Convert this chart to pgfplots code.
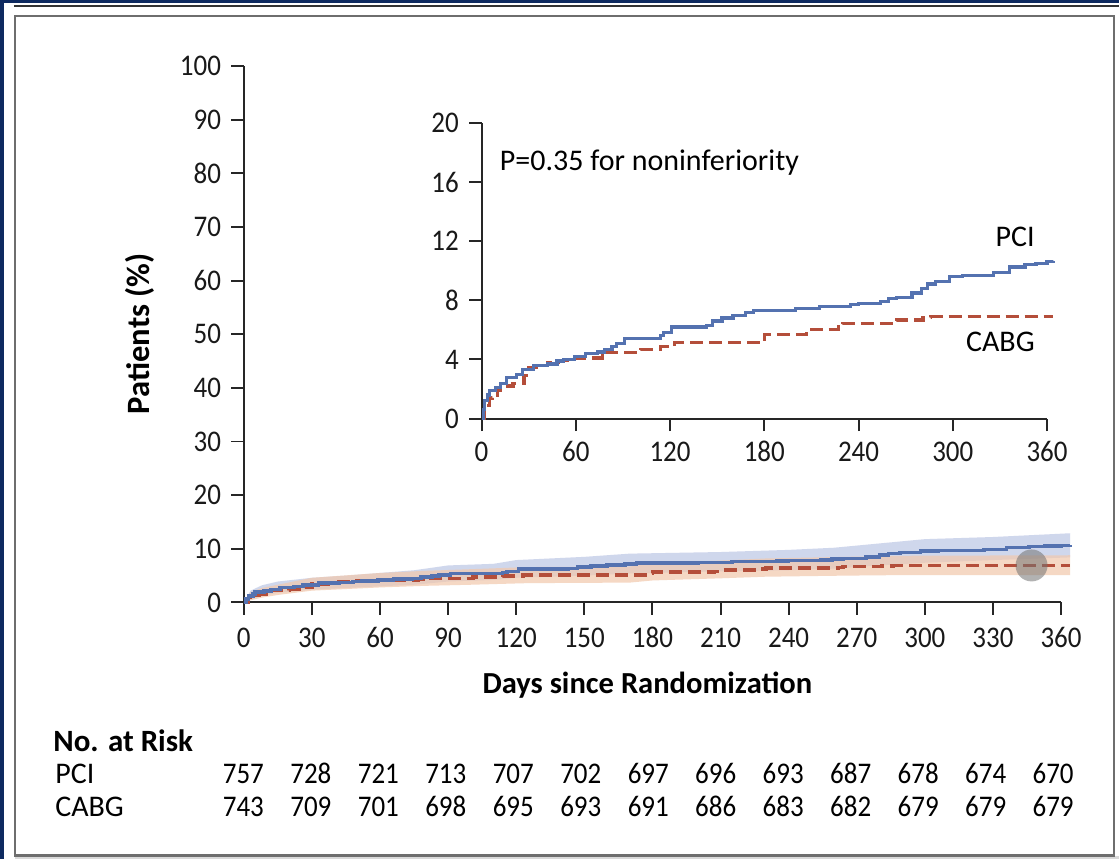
\documentclass[border=0pt]{standalone}
\usepackage{pgfplots}
\pgfplotsset{compat=1.18}
\usepackage{fontspec}
\setmainfont{Carlito}[Numbers=Lining]
\newfontfamily\numfont{Carlito}[FakeStretch=0.9,Numbers=Lining]
\definecolor{navy}{RGB}{14,42,96}
\definecolor{pciblue}{RGB}{84,114,176}
\definecolor{cabgred}{RGB}{180,78,58}
\definecolor{pciband}{RGB}{196,205,232}
\definecolor{cabgband}{RGB}{242,200,172}
\definecolor{framegray}{RGB}{110,110,110}

\pgfplotstableread{
day val
0 0
1 0.6
2 1.2
4 1.6
5 1.9
9 2.1
12 2.4
16 2.8
22 3.0
26 3.3
33 3.6
42 3.7
48 3.9
52 4.0
59 4.2
66 4.4
74 4.5
78 4.7
83 4.9
86 5.1
91 5.4
114 5.6
116 5.8
121 6.2
143 6.3
147 6.6
153 6.8
160 7.0
168 7.2
173 7.3
200 7.45
215 7.6
235 7.7
240 7.8
254 7.9
259 8.1
264 8.2
274 8.5
280 8.8
284 9.1
289 9.3
298 9.6
306 9.7
326 9.9
336 10.25
346 10.4
353 10.5
360 10.6
364 10.65
}\pcidata

\pgfplotstableread{
day val
0 0
2 0.9
5 1.4
7 1.6
10 1.9
12 2.2
20 2.4
27 2.9
30 3.45
37 3.6
42 3.8
49 3.95
59 4.1
77 4.25
79 4.47
101 4.7
114 4.9
123 5.15
168 5.15
178 5.37
180 5.7
207 5.76
210 6.05
227 6.2
230 6.44
262 6.5
264 6.67
281 6.85
286 6.92
364 6.92
}\cabgdata

% confidence band outlines: upper limit forward, lower limit backward
\pgfplotstableread{
day val
0 0
3 2.2
8 3.2
15 3.9
30 4.6
45 5.0
60 5.5
75 6.0
90 6.9
110 7.2
120 7.9
150 8.5
170 9.1
210 9.4
240 9.8
260 10.2
280 11.0
300 11.8
330 12.2
364 12.9
364 8.4
330 7.9
300 7.4
280 6.9
260 6.3
240 6.0
210 5.8
170 5.4
150 5.0
120 4.6
110 4.2
90 3.9
75 3.3
60 3.0
45 2.7
30 2.4
15 1.8
8 1.2
3 0.5
0 0
}\pciband

\pgfplotstableread{
day val
0 0
3 1.9
8 2.7
15 3.3
30 4.6
60 5.5
80 5.9
100 6.2
125 6.6
170 6.7
180 7.3
210 7.8
230 8.2
265 8.5
290 8.7
364 8.8
364 5.1
290 5.1
265 5.0
230 4.8
210 4.5
180 4.1
170 3.7
125 3.6
100 3.3
80 3.1
60 2.8
30 2.2
15 1.4
8 0.9
3 0.4
0 0
}\cabgband

\begin{document}
\fontsize{15bp}{18bp}\selectfont
\begin{tikzpicture}
% frame
\fill[navy] (0bp,0bp) rectangle (560bp,430bp);
\fill[white] (2bp,0bp) rectangle (560bp,428.5bp);
\draw[black!80,line width=1bp] (7bp,427bp) -- (560bp,427bp);
\fill[black!15] (7.5bp,0bp) rectangle (560bp,1.5bp);
\draw[framegray,line width=1.3bp,fill=white] (7.5bp,2bp) rectangle (557.5bp,422bp);

\pgfplotsset{
  kmstyle/.style={
    scale only axis,
    axis x line*=bottom,
    axis y line*=left,
    axis line style={black!85,line width=1bp,-},
    tick style={black!85,line width=1bp},
    tick align=outside,
    major tick length=6.2bp,
    minor tick num=0,
    xtick pos=bottom, ytick pos=left,
    /pgf/number format/assume math mode=true,
    tick label style={font=\numfont\fontsize{15bp}{18bp}\selectfont, text=black!90},
    xticklabel style={text height=10bp, text depth=0pt},
    clip=false,
  }
}

% main axis
\begin{axis}[kmstyle,
  at={(122bp,128.5bp)}, anchor=south west,
  width=409bp, height=268.5bp,
  xmin=0, xmax=360, ymin=0, ymax=100,
  xtick={0,30,...,360}, ytick={0,10,...,100},
  xticklabel style={yshift=-1bp},
]
\addplot[draw=none, fill=pciband, fill opacity=0.8] table[x=day,y=val] {\pciband};
\addplot[draw=none, fill=cabgband, fill opacity=0.7] table[x=day,y=val] {\cabgband};
\addplot[const plot, cabgred, line width=1.8bp, dash pattern=on 6.5bp off 3bp] table[x=day,y=val] {\cabgdata};
\addplot[const plot, pciblue, line width=1.8bp] table[x=day,y=val] {\pcidata};
\addplot[only marks, mark=*, mark size=8bp, color=black!55, mark options={draw opacity=0, fill opacity=0.55}] coordinates {(347,6.9)};
\end{axis}

% inset
\begin{axis}[kmstyle,
  at={(241bp,220.5bp)}, anchor=south west,
  width=283bp, height=148bp,
  xmin=0, xmax=360, ymin=0, ymax=20,
  xtick={0,60,...,360}, ytick={0,4,...,20},
]
\addplot[const plot, cabgred, line width=1.6bp, dash pattern=on 6.5bp off 3bp] table[x=day,y=val] {\cabgdata};
\addplot[const plot, pciblue, line width=1.6bp] table[x=day,y=val] {\pcidata};
\end{axis}

% labels
\node[rotate=90, font=\bfseries\fontsize{16.3bp}{18bp}\selectfont] at (70bp,263bp) {Patients (\%)};
\node[font=\bfseries\fontsize{15.3bp}{18bp}\selectfont] at (324bp,87bp) {Days since Randomization};
\node[anchor=west, inner sep=0pt] at (250bp,348.5bp) {P=0.35 for noninferiority};
\node[anchor=east, inner sep=0pt] at (518bp,311.5bp) {PCI};
\node[anchor=east, inner sep=0pt] at (518bp,259bp) {CABG};

% risk table
\node[anchor=west, inner sep=0pt, font=\bfseries\fontsize{15.5bp}{18bp}\selectfont] at (26.5bp,59.5bp) {No. at Risk};
\node[anchor=west, inner sep=0pt] at (27.5bp,42.5bp) {PCI};
\node[anchor=west, inner sep=0pt] at (27.5bp,26bp) {CABG};
\foreach \n [count=\i from 0] in {757,728,721,713,707,702,697,696,693,687,678,674,670}
  \node[font=\numfont, anchor=base, inner sep=0pt] at (121.8bp+\i*33.77bp,37.7bp) {\n};
\foreach \n [count=\i from 0] in {743,709,701,698,695,693,691,686,683,682,679,679,679}
  \node[font=\numfont, anchor=base, inner sep=0pt] at (121.8bp+\i*33.77bp,21.2bp) {\n};
\end{tikzpicture}
\end{document}
